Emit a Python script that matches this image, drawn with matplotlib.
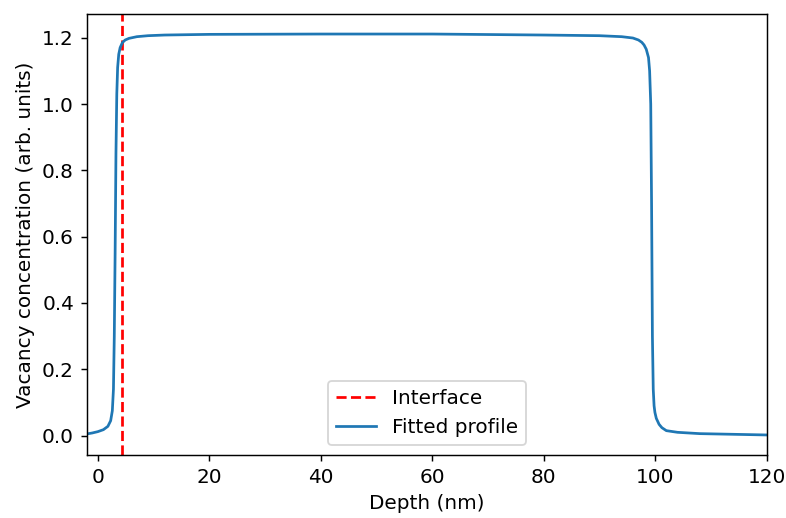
import matplotlib
matplotlib.use("Agg")
import matplotlib.pyplot as plt

# values
depth = [-2, -1, 0, 1, 1.8, 2.3, 2.6, 2.8, 2.95, 3.1, 3.25, 3.4, 3.55, 3.75,
         4.0, 4.4, 4.9, 5.6, 7, 9, 12, 20, 40, 60, 80, 90, 94, 96, 97, 97.6,
         98.0, 98.4, 98.8, 99.0, 99.2, 99.35, 99.5, 99.65, 99.8, 99.95,
         100.2, 100.7, 101.2, 102, 104, 108, 114, 120]
conc = [0.005, 0.008, 0.012, 0.018, 0.028, 0.045, 0.075, 0.14, 0.3, 0.55,
        0.85, 1.03, 1.11, 1.15, 1.17, 1.185, 1.193, 1.198, 1.203, 1.206,
        1.208, 1.21, 1.211, 1.211, 1.208, 1.206, 1.203, 1.199, 1.193, 1.186,
        1.178, 1.165, 1.14, 1.1, 1.0, 0.7, 0.3, 0.14, 0.09, 0.07,
        0.052, 0.034, 0.024, 0.015, 0.01, 0.006, 0.004, 0.002]
interface = 4.3

plt.rcParams['font.size'] = 11

fig = plt.figure(figsize=(786 / 131, 518 / 131), dpi=131)
ax = fig.add_subplot(111)
fig.subplots_adjust(left=0.1103, right=0.9754, bottom=0.1216, top=0.973)

ax.axvline(interface, color='r', linestyle='--', label='Interface')
ax.plot(depth, conc, color='#1f77b4', label='Fitted profile')

ax.set_xlim(-2, 120)
ax.set_xlabel('Depth (nm)')
ax.set_ylabel('Vacancy concentration (arb. units)')
ax.legend(loc='lower center')

fig.savefig('out.png', dpi=131)
